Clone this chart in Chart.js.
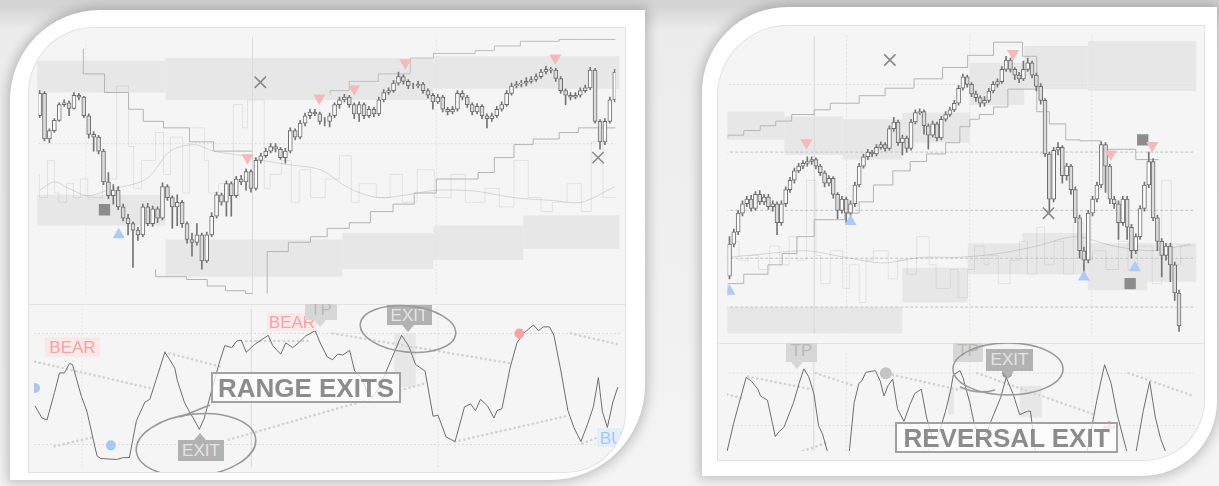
<!DOCTYPE html>
<html>
<head>
<meta charset="utf-8">
<script src="https://cdn.jsdelivr.net/npm/chart.js"></script>
<style>
  html, body { margin: 0; padding: 0; }
  body {
    width: 1219px; height: 486px; overflow: hidden; position: relative;
    background: linear-gradient(to bottom, #d3d3d3 0px, #d6d6d6 7px, #ececec 30px, #f4f4f4 100%);
    font-family: "Liberation Sans", Arial, sans-serif;
  }
  .panel { position: absolute; background: #fff; box-shadow: 0 0 12px 3px rgba(0,0,0,0.22); }
  #leftPanel { left: 10px; top: 10px; width: 635px; height: 470px; border-radius: 90px 0 95px 0; }
  #rightPanel { left: 702px; top: 7px; width: 515px; height: 469px; border-radius: 85px 0 75px 0; }
  .inner { position: absolute; overflow: hidden; background: #f5f5f5; box-shadow: 0 0 0 1px #e2e2e2; }
  #leftInner { left: 29px; top: 28px; width: 596px; height: 444px; border-radius: 65px 0 60px 0; }
  #rightInner { left: 718px; top: 26px; width: 486px; height: 434px; border-radius: 70px 0 60px 0; }
  .inner canvas { position: absolute; left: 0; }
  .sep { position: absolute; left: 0; height: 1px; background: #e3e3e3; }
  .layer { position: absolute; left: 0; overflow: hidden; }
  .layer svg { position: absolute; left: 0; top: 0; }
  .tag { position: absolute; font-size: 17px; line-height: 1; text-align: center; box-sizing: border-box; padding-top: 2px; }
  .bear { background: rgba(252, 230, 230, 0.8); color: #f4a2a2; }
  .bull { background: rgba(226, 236, 252, 0.9); color: #a8c5f2; text-align: left; padding-left: 3px; }
  .tp { background: #d7d7d7; color: #b9b9b9; }
  .exit { background: #b2b2b2; color: #e4e4e4; }
  .ptr { position: absolute; width: 0; height: 0; border-left: 6px solid transparent; border-right: 6px solid transparent; }
  .ptr.down.exitc { border-top: 7px solid #b2b2b2; }
  .ptr.up.exitc { border-bottom: 7px solid #b2b2b2; }
  .ptr.down.tpc { border-top: 7px solid #d7d7d7; }
  .title {
    position: absolute; box-sizing: border-box; border: 2px solid #a2a2a2; background: rgba(255,255,255,0.72);
    color: #8c8c8c; font-weight: bold; font-size: 26px; line-height: 26px; text-align: center; white-space: nowrap;
  }
</style>
</head>
<body>
<div class="panel" id="leftPanel"></div>
<div class="panel" id="rightPanel"></div>

<div class="inner" id="leftInner">
  <canvas id="leftPrice" width="596" height="276" style="top:0"></canvas>
  <div class="sep" style="top:276px;width:596px"></div>
  <canvas id="leftOsc" width="596" height="168" style="top:276px"></canvas>
  <div class="layer" style="top:276px;width:596px;height:168px">
    <div class="tag bear" style="left:16px;top:33px;width:55px;height:20px">BEAR</div>
    <div class="tag bear" style="left:238px;top:9px;width:50px;height:18px;padding-top:1px">BEAR</div>
    <div class="tag tp" style="left:276px;top:-5px;width:32px;height:21px">TP</div>
    <div class="ptr down tpc" style="left:285px;top:16px"></div>
    <div class="tag exit" style="left:358px;top:1px;width:45px;height:20px">EXIT</div>
    <div class="ptr down exitc" style="left:373px;top:21px"></div>
    <div class="tag exit" style="left:149px;top:136px;width:46px;height:21px">EXIT</div>
    <div class="ptr up exitc" style="left:165px;top:129px"></div>
    <div class="tag bull" style="left:568px;top:124px;width:46px;height:19px">BULL</div>
    <div class="title" style="left:182px;top:68px;width:190px;height:31px;padding-top:1px">RANGE EXITS</div>
    <svg width="596" height="168">
      <ellipse cx="167" cy="141" rx="60" ry="31" transform="rotate(-6 167 141)" fill="none" stroke="#9a9a9a" stroke-width="1.6"/>
      <ellipse cx="379" cy="25" rx="48" ry="23" transform="rotate(6 379 25)" fill="none" stroke="#9a9a9a" stroke-width="1.6"/>
      <line x1="151" y1="113" x2="181" y2="101" stroke="#9a9a9a" stroke-width="1.6"/>
    </svg>
  </div>
</div>

<div class="inner" id="rightInner">
  <canvas id="rightPrice" width="486" height="317" style="top:0"></canvas>
  <div class="sep" style="top:317px;width:486px"></div>
  <canvas id="rightOsc" width="486" height="117" style="top:317px"></canvas>
  <div class="layer" style="top:317px;width:486px;height:117px">
    <div class="tag tp" style="left:68px;top:-3px;width:31px;height:22px">TP</div>
    <div class="ptr down tpc" style="left:73px;top:19px"></div>
    <div class="tag tp" style="left:235px;top:-3px;width:30px;height:22px">TP</div>
    <div class="tag exit" style="left:268px;top:6px;width:47px;height:22px">EXIT</div>
    <div class="ptr down exitc" style="left:284px;top:28px"></div>
    <div class="title" style="left:177px;top:79px;width:223px;height:31px;padding-top:1px">REVERSAL EXIT</div>
    <svg width="486" height="117">
      <ellipse cx="290" cy="26" rx="55" ry="26" fill="none" stroke="#9a9a9a" stroke-width="1.6"/>
      <path d="M242 44 Q260 52 277 47" fill="none" stroke="#9a9a9a" stroke-width="1.6"/>
    </svg>
  </div>
</div>

<script>
// ---------- left panel: price pane (x = bar index) ----------
const leftOpen0 = 192;
const leftClose = [216,167,176,187,204,206,200,214,212,192, 172,169,154,121,106,112,94,82,76,69,
  64,94,76,92,82,116,104,94,99,76, 59,56,64,36,64,84,107,99,119,106,
  124,121,132,114,144,149,154,159,156,147, 154,176,169,184,192,196,194,186,186,192,
  204,209,212,204,194,204,192,199,194,209, 217,219,227,234,229,224,224,226,219,214,
  207,212,199,196,199,216,212,204,196,202, 192,189,192,199,204,216,224,226,227,229,
  231,234,239,242,241,232,219,214,212,214, 219,222,241,186,164,186,209,239];
const leftHigh = [219,218,178,189,206,209,208,217,216,213, 194,175,171,156,131,118,116,97,86,78,
  72,97,98,95,94,120,118,106,107,101, 78,66,76,66,67,88,110,109,122,121,
  127,128,135,134,147,152,157,162,162,158, 157,179,178,187,195,199,199,196,190,195,
  206,212,215,214,206,207,206,202,201,212, 220,222,230,239,236,231,227,229,228,221,
  216,215,214,201,202,219,219,214,206,205, 204,194,195,202,207,219,227,229,230,233,
  234,237,242,245,244,243,234,221,217,217, 222,225,244,243,188,189,212,242];
const leftLow = [190,165,163,174,186,202,192,199,209,190, 168,154,151,118,103,97,91,79,64,29,
  58,62,74,73,77,80,101,71,74,72, 55,41,53,27,34,62,82,96,84,84,
  104,118,112,110,112,141,147,152,153,145, 141,152,166,167,181,189,192,183,181,180,
  190,200,207,201,189,186,189,190,191,192, 207,215,217,225,226,221,221,222,216,211,
  199,205,196,193,194,197,209,201,193,194, 189,179,186,190,197,202,214,222,223,224,
  227,229,232,237,238,229,216,204,209,210, 212,217,220,184,156,161,184,207];

// shaded zones [from, to, low, high]
const leftZones = [[-0.5,25.6,217,251],[25.6,80.1,209,254],[80.1,118,221,256],
  [-0.5,25.6,74,107],[25.6,61.6,19,59],[61.6,80.1,27,66],[80.1,98.4,37,74],[98.4,118,49,85]];

const leftStopDown = [[8.9,264],[13.2,237],[18.1,217],[21.1,199],[25.2,186],[30.5,179],[35.4,164],[39.4,154],[43.3,154]];
const leftStopLow = [[23.6,27],[29.9,19],[34.1,16],[37.8,9],[41.9,4],[43.3,1]];
const leftStopUp = [[46.3,1],[46.3,41],[50.6,46],[55.1,56],[58.5,62],[63,71],[67.3,77],[71.9,89],[76.2,97],[80.7,109],
  [89.2,124],[92.5,131],[96.5,147],[100.4,161],[105.7,167],[109.6,174],[113.6,179],[117.5,179]];
const leftStopTop = [[59.1,214],[63,219],[68.9,229],[75.4,237],[80.1,254],[88.6,259],[92.5,262],[97.8,267],[105.7,272],[110.2,274],[117.5,274]];

const leftNoise = [[0,129],[1.6,104],[3,144],[3.9,109],[5.5,99],[6.9,119],[8.3,104],[9.8,124],[12.8,104],[15.7,124],
  [18.1,224],[19.1,159],[20.7,114],[23.6,144],[25.2,174],[26.6,129],[29.1,169],[30.5,109],[33.5,179],[34.4,144],
  [36.4,109],[39.4,119],[41.3,204],[42.3,179],[45.7,209],[46.9,114],[49.2,129],[51.2,144],[52.8,99],[55.1,134],
  [58.1,104],[61,124],[63.4,149],[65,99],[68.5,119],[71.3,104],[73.8,129],[76.8,99],[80.3,134],[83.7,104],
  [86.6,129],[90.6,99],[93.5,114],[96.5,94],[99.4,144],[102,104],[104.3,89],[107.3,99],[110.2,119],[112.2,89],
  [114.6,164],[116.1,104],[117.5,104]];
const leftAverage = [[0,112],[3,121],[5.9,114],[9.8,106],[13.8,112],[21.7,124],[26.6,154],[31.5,161],[35.4,154],[41.3,149],
  [45.3,144],[51.2,139],[57.1,134],[63,114],[68.9,104],[74.8,107],[80.7,112],[88.6,111],[96.5,104],[104.3,101],[110.2,99],[117.1,116]];

const leftSellX = [42.3, 56.9, 64, 74.4, 104.9];
const leftSellY = [147, 211, 221, 249, 254];
const leftBuyX = [16.1];
const leftBuyY = [64];
const leftExitX = [44.9, 113.6];
const leftExitY = [228, 147];
const leftStopX = [13.2];
const leftStopY = [91];

// ---------- left panel: oscillator pane ----------
const leftOsc = [[0,65],[1.4,52],[2.4,50],[3.9,79],[4.9,100],[5.9,100],[6.9,110],[7.5,109],[9.3,75],[10.4,59],
  [12.4,12],[13.2,9],[16.3,8],[17.7,10],[18.9,10],[20.3,49],[22,69],[23,72],[24.2,92],[26,122],
  [27,114],[28,105],[28.5,92],[29.9,69],[30.9,59],[31.9,50],[32.9,40],[33.9,52],[35.4,82],[36.8,109],
  [38,129],[39.4,127],[40.4,134],[41.3,135],[42.3,122],[43.9,130],[45.3,135],[46.7,140],[47.6,129],[49.2,120],
  [50.2,132],[51.6,127],[52.8,132],[54.1,139],[56.1,145],[57.1,132],[58.5,117],[59.6,114],[60.6,120],[61.6,119],
  [63,124],[64,102],[65.4,95],[66.5,80],[67.5,74],[68.9,84],[70.9,109],[73.4,140],[74.8,129],[76.2,109],
  [78.1,102],[79.7,54],[80.7,55],[82.3,32],[84.1,27],[86,64],[87.2,67],[88.2,60],[89.2,72],[90.6,65],
  [91.9,52],[92.5,60],[93.5,62],[95.1,105],[96.5,132],[97.8,142],[99.8,151],[100.8,145],[101.8,149],[103,149],
  [103.9,140],[105.3,102],[106.7,60],[107.9,42],[109.3,27],[110.6,45],[111.8,64],[112.8,95],[113.6,59],[114.6,42],
  [115.7,69],[116.7,85]];
// dotted signal segments [x1, y1, x2, y2]
const leftOscDots = [[0,112,23,84],[26,122,37,107],[42.3,134,55.1,134],[59.6,142,95.5,110],[107.3,142,117.1,130],
  [3.9,22,11.8,32],[38.8,29,78.1,89],[84.1,27,106.3,54],[109.6,25,112.8,32]];
const leftOscZones = [[71.9,76.2,85,142]];
const leftBullDots = [[15.2,23],[0,84]];
const leftBearDots = [[97,142]];

// ---------- right panel: price pane ----------
const rightOpen0 = 61;
const rightClose = [95,108,128,138,143,133,148,140,145,135, 138,118,138,153,163,173,178,181,183,185,
  178,171,160,165,148,131,143,128,138,158, 178,188,193,191,198,201,197,218,225,203,
  208,197,225,235,236,221,211,223,208,228, 233,238,245,261,273,265,255,251,245,248,
  258,265,268,281,291,281,275,271,281,288, 275,263,248,191,143,195,198,168,178,153,
  123,88,78,128,143,158,201,178,143,138, 118,143,113,88,103,133,158,183,123,98,
  83,93,73,43,8];
const rightHigh = [103,111,131,141,146,147,151,152,148,148, 141,140,141,156,166,176,181,184,188,188,
  187,180,173,168,167,150,146,145,141,161, 181,191,196,195,201,204,203,221,230,227,
  211,210,228,238,239,238,223,226,225,231, 236,241,248,264,276,275,267,258,253,252,
  261,268,271,284,295,293,283,278,290,293, 290,277,266,250,193,198,203,200,181,180,
  156,126,92,131,146,161,204,203,180,146, 141,146,146,116,106,136,161,193,186,126,
  101,96,96,76,46];
const rightLow = [58,92,105,125,135,130,131,137,137,132, 130,105,115,135,150,160,171,175,178,180,
  175,168,156,157,144,122,128,118,125,135, 156,176,185,188,189,196,194,195,215,200,
  190,193,195,223,233,212,196,209,205,206, 226,231,236,243,259,262,252,247,241,242,
  246,256,262,266,279,278,270,267,269,279, 272,258,244,188,128,140,190,160,163,148,
  118,80,65,75,125,140,155,150,138,133, 100,115,100,80,85,100,130,155,120,88,
  60,78,55,35,2];

const rightZones = [[-0.5,12.7,206,236],[12.7,26.2,190,231],[26.2,40,185,228],[40,55.6,203,235],
  [55.6,68.2,243,288],[68.2,82.9,260,306],[82.9,108,258,311],
  [-0.5,40,0,28],[40,55.1,33,70],[55.1,67.8,63,96],[67.8,82.9,63,107],[82.9,96.7,46,96],[96.7,108,55,96]];

const rightStopTop = [[-0.4,208],[3.3,211],[7.1,216],[10.7,221],[14.4,226],[19.6,233],[23.3,238],[30,245],[36,253],[42.7,261],
  [49.3,271],[55.1,283],[61.1,296],[67.8,310],[71.1,295],[74,236],[77.8,223],[81.1,206],[86,205],[94,196],[97.1,185],[99.3,185]];
const rightStopLow = [[-0.4,40],[3.3,53],[8.9,63],[12.2,73],[15.6,85],[19.6,103],[26.7,121],[30,128],[33.3,140],[37.8,158],
  [41.8,173],[45.6,183],[50,191],[53.3,203],[55.6,220],[57.8,228],[61.1,233],[64.4,241],[68.2,260],[71.1,260]];

const rightNoise = [[0,83],[2.2,98],[4.4,78],[6.7,83],[9.3,68],[11.6,93],[13.8,73],[15.6,103],[17.8,78],[20,163],
  [21.1,83],[23.3,53],[26.2,88],[27.8,48],[30,73],[31.6,33],[33.3,78],[36.7,88],[38.9,58],[41.1,78],
  [43.3,63],[46.2,103],[47.8,73],[51.1,48],[52.9,68],[55.1,38],[56.7,68],[58.9,93],[60,73],[62.2,83],
  [64.9,53],[67.1,78],[68.9,98],[71.1,63],[72.9,113],[75.1,73],[77.3,98],[79.6,63],[81.8,118],[84,78],
  [87.1,88],[90,68],[92.2,98],[94.4,68],[97.8,93],[100,53],[102.2,163],[104.4,73],[106.7,93],[107.6,93]];
const rightAverage = [[-0.4,81],[8.9,85],[17.8,88],[26.7,81],[35.6,75],[44.4,81],[53.3,81],[62.2,85],[71.1,93],[80,103],[88.9,93],[97.8,88],[106.7,95]];

const rightSellX = [17.8, 65.6, 88.2, 97.8];
const rightSellY = [203, 298, 191, 200];
const rightBuyX = [0, 28, 82, 93.8];
const rightBuyY = [45, 119, 60, 70];
const rightExitX = [37.1, 73.8];
const rightExitY = [291, 128];
const rightStopX = [92.7, 95.6];
const rightStopY = [53, 206];

// ---------- right panel: oscillator pane ----------
const rightOsc = [[-0.4,0],[1.1,33],[2.7,63],[4,87],[5.1,83],[6.7,73],[7.3,65],[8.9,60],[10.7,17],[11.6,23],
  [12.7,28],[14.9,57],[16.2,80],[17.3,97],[18.4,88],[19.6,68],[20.7,30],[21.6,20],[22.7,0],[23.6,-10],
  [26.7,-10],[27.8,0],[28.9,57],[30,80],[30.7,83],[31.6,93],[33.8,95],[34.9,83],[35.8,65],[36.7,77],
  [37.8,85],[38.9,50],[40.4,35],[41.8,55],[42.9,68],[44.4,73],[45.6,40],[47.1,13],[48.4,20],[50,47],
  [51.1,70],[51.8,90],[53.3,95],[54,87],[55.6,57],[56.7,30],[58.2,15],[59.6,23],[60.7,38],[62.7,63],
  [64,87],[65.6,67],[67.1,43],[68.9,47],[69.6,47],[70.7,0],[72.2,-15],[81.1,-15],[82.7,0],[84.9,60],
  [86.7,102],[88.2,80],[89.6,43],[91.8,0],[92.9,-10],[94,0],[95.6,47],[97.1,82],[98.4,40],[99.6,15],
  [100.7,0],[101.8,-10],[104.4,-10]];
const rightOscDots = [[-0.4,67,3.3,62],[4.4,88,18.9,73],[20,92,28.9,77],[37.8,90,53.3,72],[57.3,92,84.4,43],
  [92.2,92,107.3,65],[17.1,0,22.7,10],[45.1,0,53.3,12]];
const rightOscZones = [[67.1,72.2,40,77],[50.6,51.9,43,73]];
const rightTpDots = [[36.2,92]];
const rightExitDots = [[64.2,92]];
const rightAlertDots = [[87.8,28]];

// ---------- helpers ----------
const pts = arr => arr.map(p => ({x: p[0], y: p[1]}));
const xy = (xs, ys) => xs.map((x, i) => ({x: x, y: ys[i]}));

function zoneLayer(zones, color) {
  return {
    id: 'zones',
    beforeDatasetsDraw(chart) {
      const {ctx, scales} = chart;
      ctx.save();
      ctx.fillStyle = color;
      zones.forEach(z => {
        const x0 = scales.x.getPixelForValue(z[0]);
        const x1 = scales.x.getPixelForValue(z[1]);
        const y0 = scales.y.getPixelForValue(z[2]);
        const y1 = scales.y.getPixelForValue(z[3]);
        ctx.fillRect(x0, y1, x1 - x0, y0 - y1);
      });
      ctx.restore();
    }
  };
}

function candleSets(open0, close, high, low, width) {
  const open = close.map((c, i) => i === 0 ? open0 : close[i - 1]);
  return [
    { type: 'bar', data: close.map((c, i) => ({x: i, y: [low[i], high[i]]})),
      backgroundColor: '#747474', barThickness: 1, grouped: false, order: 2 },
    { type: 'bar', data: close.map((c, i) => ({x: i, y: [open[i], c]})),
      backgroundColor: close.map((c, i) => c >= open[i] ? '#fbfbfb' : '#dcdcdc'),
      borderColor: '#6c6c6c', borderWidth: 1, borderSkipped: false,
      barThickness: width, grouped: false, order: 1 }
  ];
}

function line(data, color, width, extra) {
  return Object.assign({ type: 'line', data: data, borderColor: color, borderWidth: width,
    pointRadius: 0, fill: false, tension: 0, order: 8 }, extra || {});
}

function marks(data, style, color, radius, extra) {
  return Object.assign({ type: 'line', data: data, showLine: false, pointStyle: style,
    pointRadius: radius, pointBackgroundColor: color, pointBorderColor: color,
    pointBorderWidth: 0, order: 0 }, extra || {});
}

function dots(segments) {
  return segments.map(s => line([{x: s[0], y: s[1]}, {x: s[2], y: s[3]}], '#d2d2d2', 2.6,
    { borderDash: [0.1, 4.6], borderCapStyle: 'round', order: 9 }));
}

function hRule(y, x0, x1, color, dash) {
  return line([{x: x0, y: y}, {x: x1, y: y}], color, 1, { borderDash: dash, order: 20 });
}
function vRule(x, y0, y1, color, dash) {
  return line([{x: x, y: y0}, {x: x, y: y1}], color, 1, { borderDash: dash, order: 20 });
}

function makeChart(id, xr, yr, datasets, zones) {
  return new Chart(document.getElementById(id), {
    type: 'bar',
    data: { datasets: datasets },
    options: {
      responsive: false, animation: false, events: [],
      layout: { padding: 0 },
      plugins: { legend: { display: false }, tooltip: { enabled: false } },
      scales: {
        x: { type: 'linear', min: xr[0], max: xr[1], display: false, offset: false },
        y: { type: 'linear', min: yr[0], max: yr[1], display: false }
      }
    },
    plugins: [zoneLayer(zones, 'rgba(0,0,0,0.055)')]
  });
}

const leftX = [-0.2, 117.13];
const rightX = [-0.44, 107.56];
const stairColor = '#b4b4b4';

// ---------- left price ----------
makeChart('leftPrice', leftX, [0, 276], [
  ...candleSets(leftOpen0, leftClose, leftHigh, leftLow, 4),
  marks(xy(leftSellX, leftSellY), 'triangle', '#f6b8b8', 7, { pointRotation: 180 }),
  marks(xy(leftBuyX, leftBuyY), 'triangle', '#aecbf3', 7),
  marks(xy(leftExitX, leftExitY), 'crossRot', '#8a8a8a', 8, { pointBorderWidth: 1.6 }),
  marks(xy(leftStopX, leftStopY), 'rect', '#8c8c8c', 8),
  line(pts(leftStopDown), stairColor, 1, { stepped: 'after' }),
  line(pts(leftStopLow), stairColor, 1, { stepped: 'after' }),
  line(pts(leftStopUp), stairColor, 1, { stepped: 'after' }),
  line(pts(leftStopTop), '#bdbdbd', 1, { stepped: 'after' }),
  line(pts(leftNoise), 'rgba(0,0,0,0.08)', 1, { stepped: 'after', order: 15 }),
  line(pts(leftAverage), 'rgba(0,0,0,0.13)', 1, { tension: 0.3, order: 14 }),
  hRule(162, -1, 119, '#dcdcdc', [2, 2]),
  vRule(43.3, 0, 276, '#dadada', []),
  vRule(80.7, 0, 276, '#e2e2e2', [2, 2]),
  vRule(9.4, 0, 276, '#e6e6e6', [2, 2])
], leftZones);

// ---------- left oscillator ----------
makeChart('leftOsc', leftX, [0, 168], [
  line(pts(leftOsc), '#6e6e6e', 1, { order: 5 }),
  ...dots(leftOscDots),
  marks(pts(leftBullDots), 'circle', '#a9c6f4', 5),
  marks(pts(leftBearDots), 'circle', '#f5a3a3', 5),
  hRule(142, -1, 119, '#dcdcdc', [2, 2]),
  hRule(24, -1, 119, '#dcdcdc', [2, 2]),
  vRule(43.3, 0, 168, '#dadada', []),
  vRule(80.7, 0, 168, '#e2e2e2', [2, 2]),
  vRule(9.4, 0, 168, '#e6e6e6', [2, 2])
], leftOscZones);

// ---------- right price ----------
makeChart('rightPrice', rightX, [0, 317], [
  ...candleSets(rightOpen0, rightClose, rightHigh, rightLow, 4),
  marks(xy(rightSellX, rightSellY), 'triangle', '#f6b8b8', 7, { pointRotation: 180 }),
  marks(xy(rightBuyX, rightBuyY), 'triangle', '#aecbf3', 7),
  marks(xy(rightExitX, rightExitY), 'crossRot', '#8a8a8a', 8, { pointBorderWidth: 1.6 }),
  marks(xy(rightStopX, rightStopY), 'rect', '#8c8c8c', 8),
  line(pts(rightStopTop), stairColor, 1, { stepped: 'after' }),
  line(pts(rightStopLow), stairColor, 1, { stepped: 'after' }),
  line(pts(rightNoise), 'rgba(0,0,0,0.08)', 1, { stepped: 'after', order: 15 }),
  line(pts(rightAverage), 'rgba(0,0,0,0.13)', 1, { tension: 0.3, order: 14 }),
  hRule(265, -1, 109, '#dedede', [2, 2]),
  hRule(193, -1, 109, '#c2c2c2', [3, 2]),
  hRule(131, -1, 109, '#c2c2c2', [3, 2]),
  hRule(80, -1, 109, '#c2c2c2', [3, 2]),
  hRule(28, -1, 109, '#c2c2c2', [3, 2]),
  vRule(19.6, 0, 317, '#d8d8d8', []),
  vRule(27.1, 0, 317, '#e2e2e2', [2, 2]),
  vRule(55.6, 0, 317, '#e2e2e2', [2, 2]),
  vRule(83.8, 0, 317, '#e2e2e2', [2, 2])
], rightZones);

// ---------- right oscillator ----------
makeChart('rightOsc', rightX, [0, 117], [
  line(pts(rightOsc), '#6e6e6e', 1, { order: 5 }),
  ...dots(rightOscDots),
  marks(pts(rightTpDots), 'circle', '#c4c4c4', 6),
  marks(pts(rightExitDots), 'circle', '#999999', 5),
  marks(pts(rightAlertDots), 'cross', '#f5a3a3', 6, { pointBorderWidth: 3 }),
  hRule(92, -1, 109, '#dedede', [2, 2]),
  hRule(30, -1, 109, '#dedede', [2, 2]),
  vRule(19.6, 0, 117, '#d8d8d8', []),
  vRule(27.1, 0, 117, '#e2e2e2', [2, 2]),
  vRule(55.6, 0, 117, '#e2e2e2', [2, 2]),
  vRule(83.8, 0, 117, '#e2e2e2', [2, 2])
], rightOscZones);
</script>
</body>
</html>
